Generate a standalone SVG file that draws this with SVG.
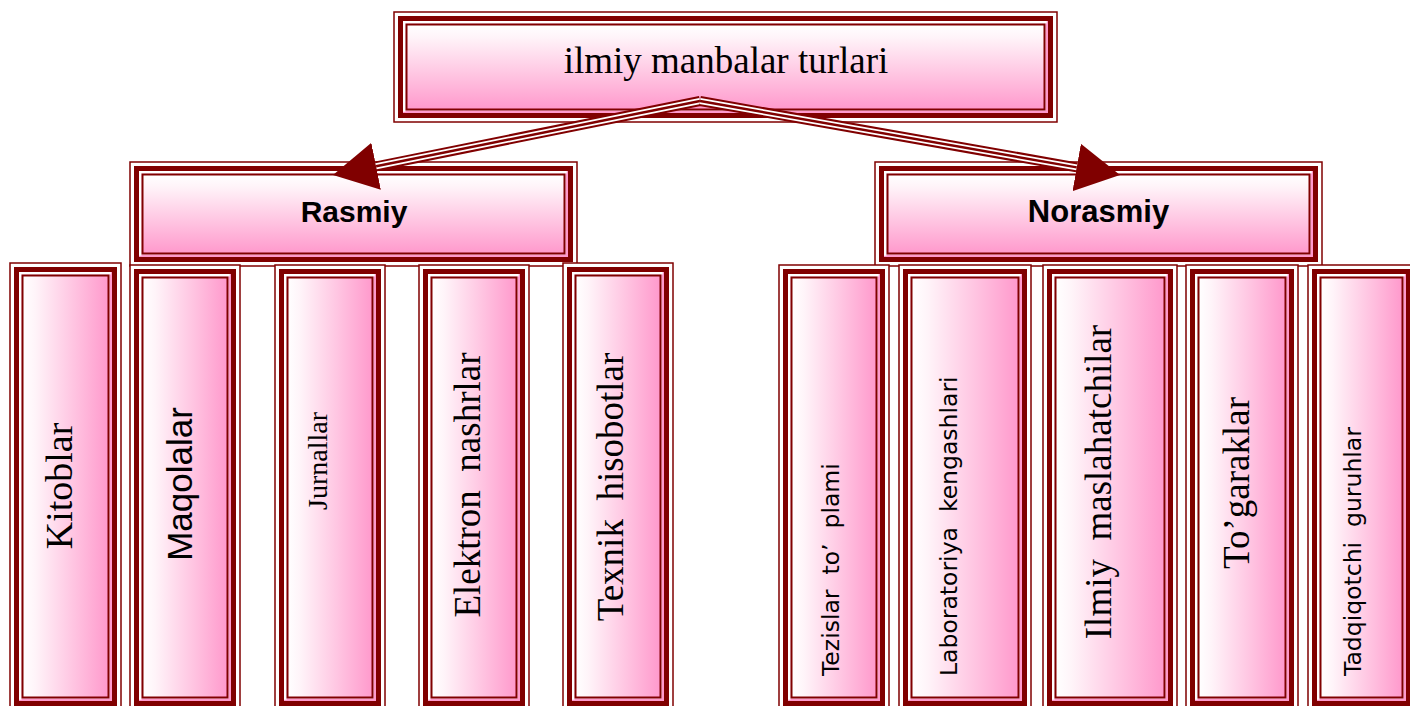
<svg xmlns="http://www.w3.org/2000/svg" width="1410" height="706" viewBox="0 0 1410 706">
<defs>
<linearGradient id="gv" x1="0" y1="0" x2="0" y2="1">
<stop offset="0" stop-color="#ffffff"/><stop offset="0.15" stop-color="#fff4f9"/><stop offset="1" stop-color="#ff99cc"/>
</linearGradient>
<linearGradient id="gh" x1="0" y1="0" x2="1" y2="0">
<stop offset="0" stop-color="#ffffff"/><stop offset="0.15" stop-color="#fff4f9"/><stop offset="1" stop-color="#ff99cc"/>
</linearGradient>
<marker id="ah" viewBox="0 -24 44 48" markerWidth="44" markerHeight="48" refX="0" refY="0" orient="auto" markerUnits="userSpaceOnUse">
<path d="M0,-24 L44,0 L0,24 z" fill="#800000"/>
</marker>
<style>
.o{fill:#fff;stroke:#800000;stroke-width:1.5}
.t{fill:none;stroke:#800000;stroke-width:5}
.g{fill:none;stroke:#ff99cc;stroke-width:2.5}
.w{fill:none;stroke:#fff;stroke-width:2.5}
.ih{fill:url(#gv);stroke:#800000;stroke-width:2}
.iv{fill:url(#gh);stroke:#800000;stroke-width:2}
.serif{font-family:"Liberation Serif","Times New Roman",serif;fill:#000;white-space:pre}
.sans{font-family:"Liberation Sans",Arial,sans-serif;fill:#000;white-space:pre}
.dv{font-family:"DejaVu Sans",Verdana,sans-serif;fill:#000;white-space:pre}
.c1{fill:none;stroke:#800000;stroke-width:10}
.c2{fill:none;stroke:#fff;stroke-width:6}
.c3{fill:none;stroke:#800000;stroke-width:2.4}
</style>
</defs>
<rect width="1410" height="706" fill="#fff"/>

<g id="node-top">
<rect class="o" x="394" y="12" width="663" height="110"/>
<rect class="t" x="400.5" y="18.5" width="650" height="97"/>
<rect class="g" x="404.25" y="22.25" width="642.5" height="89.5"/>
<path class="w" d="M404.25,111.75 V22.25 H1046.75"/>
<rect class="ih" x="406.5" y="24.5" width="638" height="85"/>
<text class="serif" x="726" y="73" font-size="37" text-anchor="middle">ilmiy manbalar turlari</text>
</g>

<g id="node-rasmiy">
<rect class="o" x="130" y="162" width="447" height="104"/>
<rect class="t" x="136.5" y="168.5" width="434" height="91"/>
<rect class="g" x="140.25" y="172.25" width="426.5" height="83.5"/>
<path class="w" d="M140.25,255.75 V172.25 H566.75"/>
<rect class="ih" x="142.5" y="174.5" width="422" height="79"/>
<text class="sans" x="354" y="222" font-size="30" font-weight="bold" text-anchor="middle">Rasmiy</text>
</g>

<g id="node-norasmiy">
<rect class="o" x="875" y="162" width="447" height="104"/>
<rect class="t" x="881.5" y="168.5" width="434" height="91"/>
<rect class="g" x="885.25" y="172.25" width="426.5" height="83.5"/>
<path class="w" d="M885.25,255.75 V172.25 H1311.75"/>
<rect class="ih" x="887.5" y="174.5" width="422" height="79"/>
<text class="sans" x="1098.5" y="222" font-size="31" font-weight="bold" text-anchor="middle">Norasmiy</text>
</g>

<g id="node-kitoblar">
<rect class="o" x="10" y="263" width="111" height="447"/>
<rect class="t" x="16.5" y="269.5" width="98" height="434"/>
<rect class="g" x="20.25" y="273.25" width="90.5" height="426.5"/>
<path class="w" d="M20.25,699.75 V273.25 H110.75"/>
<rect class="iv" x="22.5" y="275.5" width="86" height="422"/>
<text class="serif" transform="translate(72,486) rotate(-90)" font-size="38" text-anchor="middle">Kitoblar</text>
</g>

<g id="node-maqolalar">
<rect class="o" x="130" y="265" width="110" height="445"/>
<rect class="t" x="136.5" y="271.5" width="97" height="432"/>
<rect class="g" x="140.25" y="275.25" width="89.5" height="424.5"/>
<path class="w" d="M140.25,699.75 V275.25 H229.75"/>
<rect class="iv" x="142.5" y="277.5" width="85" height="420"/>
<text class="sans" transform="translate(192,484) rotate(-90)" font-size="35" text-anchor="middle">Maqolalar</text>
</g>

<g id="node-jurnallar">
<rect class="o" x="275" y="265" width="110" height="445"/>
<rect class="t" x="281.5" y="271.5" width="97" height="432"/>
<rect class="g" x="285.25" y="275.25" width="89.5" height="424.5"/>
<path class="w" d="M285.25,699.75 V275.25 H374.75"/>
<rect class="iv" x="287.5" y="277.5" width="85" height="420"/>
<text class="serif" transform="translate(327,461) rotate(-90)" font-size="28" text-anchor="middle">Jurnallar</text>
</g>

<g id="node-elektron">
<rect class="o" x="419" y="265" width="110" height="445"/>
<rect class="t" x="425.5" y="271.5" width="97" height="432"/>
<rect class="g" x="429.25" y="275.25" width="89.5" height="424.5"/>
<path class="w" d="M429.25,699.75 V275.25 H518.75"/>
<rect class="iv" x="431.5" y="277.5" width="85" height="420"/>
<text class="serif" transform="translate(480,485) rotate(-90)" font-size="37" text-anchor="middle">Elektron  nashrlar</text>
</g>

<g id="node-texnik">
<rect class="o" x="563" y="263" width="110" height="447"/>
<rect class="t" x="569.5" y="269.5" width="97" height="434"/>
<rect class="g" x="573.25" y="273.25" width="89.5" height="426.5"/>
<path class="w" d="M573.25,699.75 V273.25 H662.75"/>
<rect class="iv" x="575.5" y="275.5" width="85" height="422"/>
<text class="serif" transform="translate(623,487) rotate(-90)" font-size="37" text-anchor="middle">Texnik  hisobotlar</text>
</g>

<g id="node-tezislar">
<rect class="o" x="779" y="265" width="110" height="445"/>
<rect class="t" x="785.5" y="271.5" width="97" height="432"/>
<rect class="g" x="789.25" y="275.25" width="89.5" height="424.5"/>
<path class="w" d="M789.25,699.75 V275.25 H878.75"/>
<rect class="iv" x="791.5" y="277.5" width="85" height="420"/>
<text class="dv" transform="translate(839,676) rotate(-90)" font-size="23.5">Tezislar  to’  plami</text>
</g>

<g id="node-laboratoriya">
<rect class="o" x="899" y="265" width="132" height="445"/>
<rect class="t" x="905.5" y="271.5" width="119" height="432"/>
<rect class="g" x="909.25" y="275.25" width="111.5" height="424.5"/>
<path class="w" d="M909.25,699.75 V275.25 H1020.75"/>
<rect class="iv" x="911.5" y="277.5" width="107" height="420"/>
<text class="dv" transform="translate(957,676) rotate(-90)" font-size="23.5">Laboratoriya  kengashlari</text>
</g>

<g id="node-ilmiy">
<rect class="o" x="1043" y="265" width="134" height="445"/>
<rect class="t" x="1049.5" y="271.5" width="121" height="432"/>
<rect class="g" x="1053.25" y="275.25" width="113.5" height="424.5"/>
<path class="w" d="M1053.25,699.75 V275.25 H1166.75"/>
<rect class="iv" x="1055.5" y="277.5" width="109" height="420"/>
<text class="serif" transform="translate(1111,482) rotate(-90)" font-size="37" text-anchor="middle">Ilmiy  maslahatchilar</text>
</g>

<g id="node-togaraklar">
<rect class="o" x="1186" y="265" width="112" height="445"/>
<rect class="t" x="1192.5" y="271.5" width="99" height="432"/>
<rect class="g" x="1196.25" y="275.25" width="91.5" height="424.5"/>
<path class="w" d="M1196.25,699.75 V275.25 H1287.75"/>
<rect class="iv" x="1198.5" y="277.5" width="87" height="420"/>
<text class="serif" transform="translate(1249,483) rotate(-90)" font-size="37" text-anchor="middle">To’garaklar</text>
</g>

<g id="node-tadqiqotchi">
<rect class="o" x="1308" y="265" width="107" height="445"/>
<rect class="t" x="1314.5" y="271.5" width="94" height="432"/>
<rect class="g" x="1318.25" y="275.25" width="86.5" height="424.5"/>
<path class="w" d="M1318.25,699.75 V275.25 H1404.75"/>
<rect class="iv" x="1320.5" y="277.5" width="82" height="420"/>
<text class="dv" transform="translate(1361,676) rotate(-90)" font-size="23.5">Tadqiqotchi  guruhlar</text>
</g>

<g id="connectors">
<path class="c1" d="M700,101 L376.1,166.3" marker-end="url(#ah)"/>
<path class="c2" d="M700,101 L376.1,166.3"/>
<path class="c3" d="M700,101 L376.1,166.3"/>
<path class="c1" d="M700,101 L1076.7,167.4" marker-end="url(#ah)"/>
<path class="c2" d="M700,101 L1076.7,167.4"/>
<path class="c3" d="M700,101 L1076.7,167.4"/>
</g>
</svg>
